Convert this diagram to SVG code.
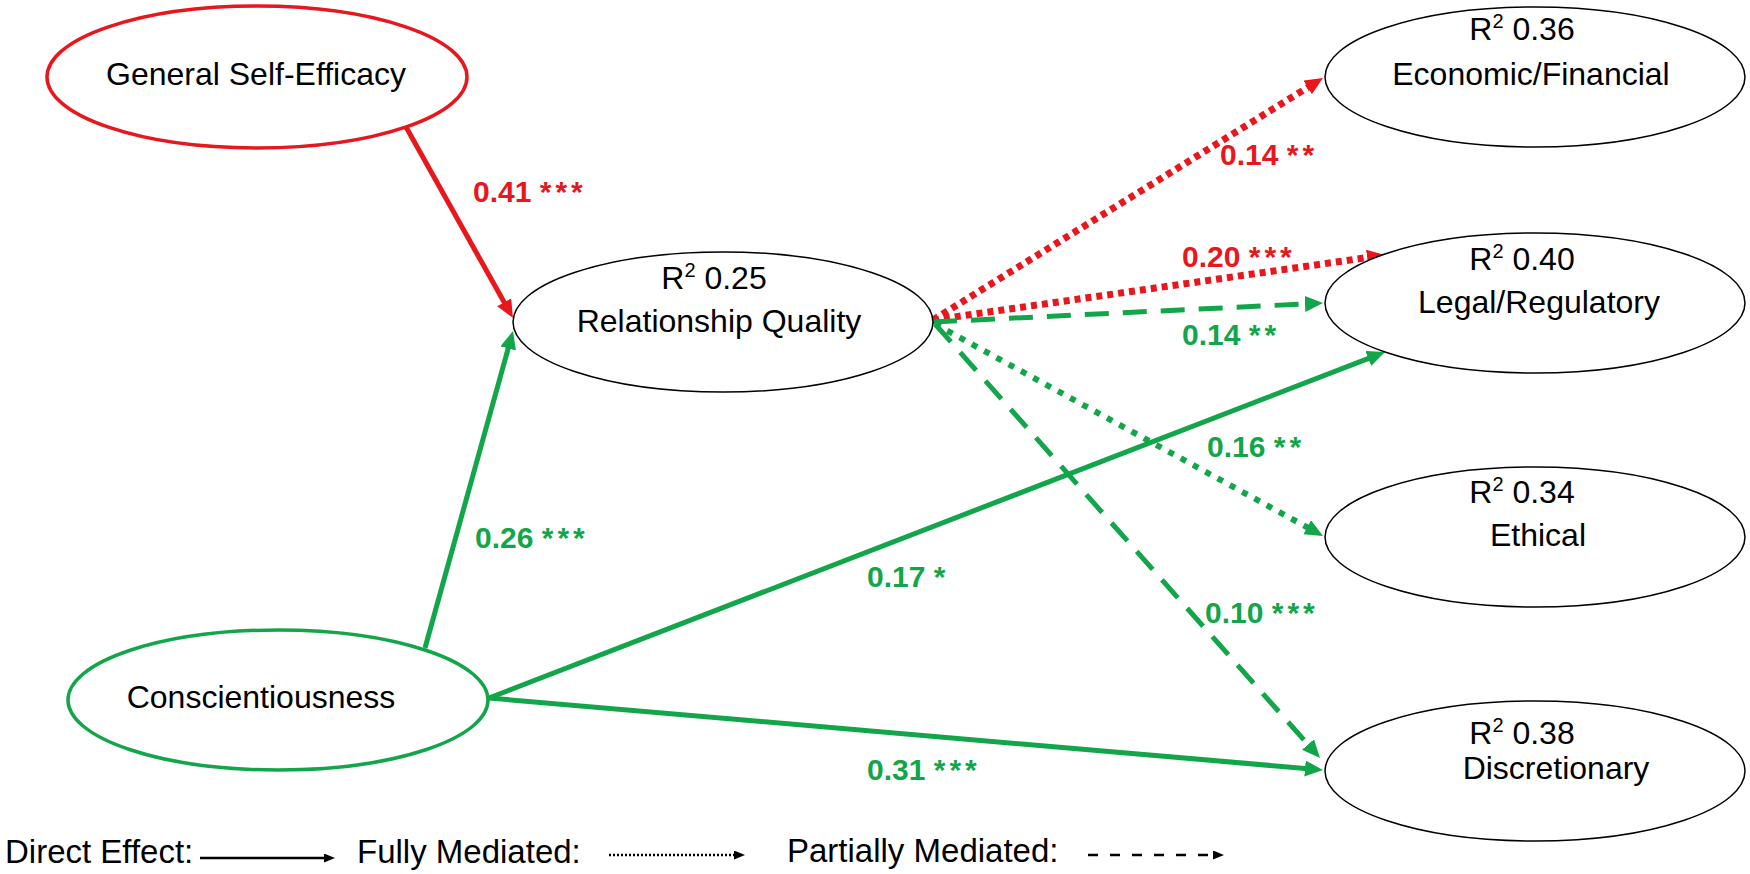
<svg xmlns="http://www.w3.org/2000/svg" width="1750" height="874" viewBox="0 0 1750 874">
  <style>
    .node { fill: #ffffff; stroke: #000000; stroke-width: 1.5; }
    .nt { font-family: "Liberation Sans", Arial, sans-serif; font-size: 32px; fill: #000000; text-anchor: middle; }
    .sup { font-size: 20px; }
    .lbl { font-family: "Liberation Sans", Arial, sans-serif; font-size: 30px; font-weight: bold; }
    .red { fill: #E8161D; }
    .grn { fill: #12A54A; }
    .star { letter-spacing: 4px; }
    .leg { font-family: "Liberation Sans", Arial, sans-serif; font-size: 33px; fill: #000000; }
    .cr { fill: none; stroke: #E8161D; stroke-width: 5; }
    .cg { fill: none; stroke: #12A54A; stroke-width: 5; }
    .dotr { stroke-dasharray: 6 5; stroke-width: 7; }
    .dotg { stroke-dasharray: 6 8; stroke-width: 6; }
    .dash { stroke-dasharray: 24 14; }
    .lk { fill: none; stroke: #000000; stroke-width: 2.5; }
  </style>
  <defs>
    <marker id="ar" markerUnits="userSpaceOnUse" markerWidth="20" markerHeight="18" refX="6" refY="8" orient="auto" viewBox="0 0 20 18">
      <path d="M0,0 L18,8 L0,16 z" fill="#E8161D"/>
    </marker>
    <marker id="ag" markerUnits="userSpaceOnUse" markerWidth="20" markerHeight="18" refX="6" refY="8" orient="auto" viewBox="0 0 20 18">
      <path d="M0,0 L18,8 L0,16 z" fill="#12A54A"/>
    </marker>
    <marker id="ak" markerUnits="userSpaceOnUse" markerWidth="12" markerHeight="10" refX="3" refY="4.5" orient="auto" viewBox="0 0 12 10">
      <path d="M0,0 L11,4.5 L0,9 z" fill="#000000"/>
    </marker>
  </defs>

  <g id="connectors">
    <line class="cr" x1="406" y1="127" x2="507.1" y2="307.5" marker-end="url(#ar)"/>
    <line class="cg" x1="425" y1="648" x2="509.8" y2="342.6" marker-end="url(#ag)"/>
    <line class="cg" x1="489" y1="698" x2="1373.8" y2="356.3" marker-end="url(#ag)"/>
    <line class="cg" x1="489" y1="698" x2="1311" y2="769" marker-end="url(#ag)"/>
    <line class="cr dotr" x1="933" y1="320" x2="1312.8" y2="84.3" marker-end="url(#ar)"/>
    <line class="cr dotr" x1="933" y1="320" x2="1373.1" y2="256.7" marker-end="url(#ar)"/>
    <line class="cg dash" x1="933" y1="322" x2="1311" y2="303.6" marker-end="url(#ag)"/>
    <line class="cg dotg" x1="935" y1="324" x2="1312.5" y2="530.2" marker-end="url(#ag)"/>
    <line class="cg dash" x1="935" y1="324" x2="1312" y2="749" marker-end="url(#ag)"/>
  </g>

  <g id="node-gse">
    <ellipse cx="257" cy="77" rx="210" ry="71" fill="#ffffff" stroke="#E8161D" stroke-width="3.5"/>
    <text class="nt" x="256" y="85">General Self-Efficacy</text>
  </g>
  <g id="node-rq">
    <ellipse class="node" cx="723" cy="322" rx="210" ry="70"/>
    <text class="nt" x="714" y="289">R<tspan class="sup" dy="-12">2</tspan><tspan dy="12"> 0.25</tspan></text>
    <text class="nt" x="719" y="332">Relationship Quality</text>
  </g>
  <g id="node-consc">
    <ellipse cx="278" cy="700" rx="210" ry="70" fill="#ffffff" stroke="#12A54A" stroke-width="3.5"/>
    <text class="nt" x="261" y="708">Conscientiousness</text>
  </g>
  <g id="node-econ">
    <ellipse class="node" cx="1535" cy="77" rx="210" ry="70"/>
    <text class="nt" x="1522" y="40">R<tspan class="sup" dy="-12">2</tspan><tspan dy="12"> 0.36</tspan></text>
    <text class="nt" x="1531" y="85">Economic/Financial</text>
  </g>
  <g id="node-legal">
    <ellipse class="node" cx="1535" cy="303" rx="210" ry="70"/>
    <text class="nt" x="1522" y="270">R<tspan class="sup" dy="-12">2</tspan><tspan dy="12"> 0.40</tspan></text>
    <text class="nt" x="1539" y="313">Legal/Regulatory</text>
  </g>
  <g id="node-ethical">
    <ellipse class="node" cx="1535" cy="537" rx="210" ry="70"/>
    <text class="nt" x="1522" y="503">R<tspan class="sup" dy="-12">2</tspan><tspan dy="12"> 0.34</tspan></text>
    <text class="nt" x="1538" y="546">Ethical</text>
  </g>
  <g id="node-disc">
    <ellipse class="node" cx="1535" cy="771" rx="210" ry="70"/>
    <text class="nt" x="1522" y="744">R<tspan class="sup" dy="-12">2</tspan><tspan dy="12"> 0.38</tspan></text>
    <text class="nt" x="1556" y="779">Discretionary</text>
  </g>

  <g id="labels">
    <text class="lbl red" x="473" y="202">0.41 <tspan class="star">***</tspan></text>
    <text class="lbl grn" x="475" y="548">0.26 <tspan class="star">***</tspan></text>
    <text class="lbl red" x="1220" y="165">0.14 <tspan class="star">**</tspan></text>
    <text class="lbl red" x="1182" y="267">0.20 <tspan class="star">***</tspan></text>
    <text class="lbl grn" x="1182" y="345">0.14 <tspan class="star">**</tspan></text>
    <text class="lbl grn" x="1207" y="457">0.16 <tspan class="star">**</tspan></text>
    <text class="lbl grn" x="867" y="587">0.17 <tspan class="star">*</tspan></text>
    <text class="lbl grn" x="1205" y="623">0.10 <tspan class="star">***</tspan></text>
    <text class="lbl grn" x="867" y="780">0.31 <tspan class="star">***</tspan></text>
  </g>

  <g id="legend">
    <text class="leg" x="5" y="863">Direct Effect:</text>
    <line class="lk" x1="200" y1="858" x2="327" y2="858" marker-end="url(#ak)"/>
    <text class="leg" x="357" y="863">Fully Mediated:</text>
    <line class="lk" x1="609" y1="855" x2="737" y2="855" stroke-dasharray="2 2" marker-end="url(#ak)"/>
    <text class="leg" x="787" y="862">Partially Mediated:</text>
    <line class="lk" x1="1088" y1="855" x2="1216" y2="855" stroke-dasharray="10 12" marker-end="url(#ak)"/>
  </g>
</svg>
